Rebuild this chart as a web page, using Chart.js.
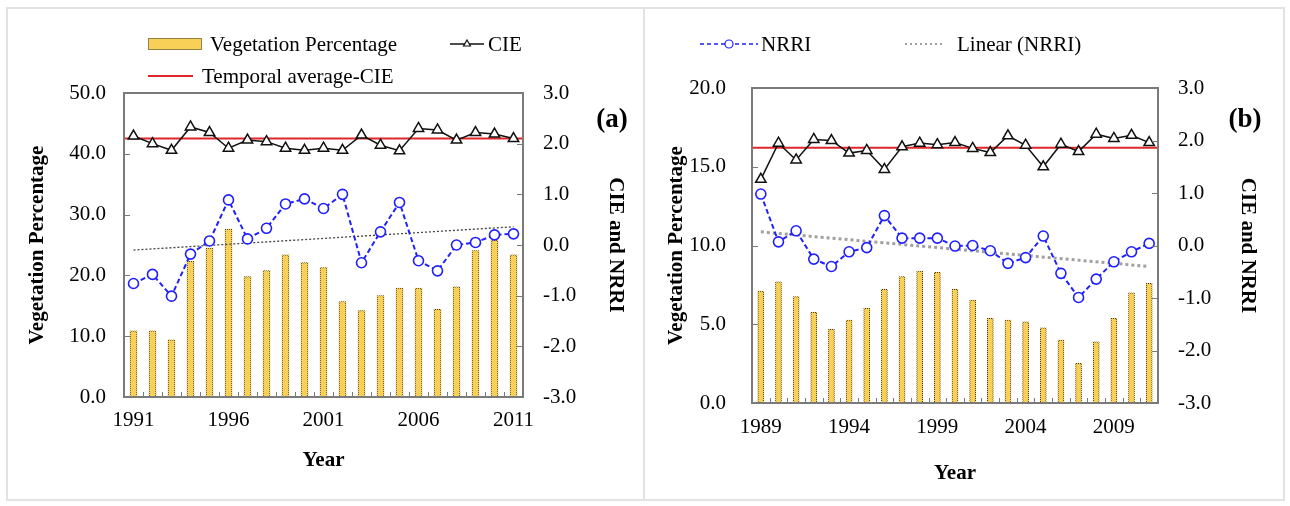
<!DOCTYPE html>
<html>
<head>
<meta charset="utf-8">
<script src="https://cdn.jsdelivr.net/npm/chart.js@4.4.1/dist/chart.umd.min.js"></script>
<style>
  body { margin: 0; background: #fff; }
  #wrap { position: relative; width: 1290px; height: 506px; overflow: hidden; }
  .frame { position: absolute; top: 7px; height: 490px; border: 2px solid #e2e2e2; }
  canvas { position: absolute; top: 0; }
</style>
</head>
<body>
<div id="wrap">
  <div class="frame" style="left:6px;width:635px;"></div>
  <div class="frame" style="left:643px;width:638px;"></div>
  <canvas id="chartA" width="645" height="506" style="left:0"></canvas>
  <canvas id="chartB" width="645" height="506" style="left:645px"></canvas>
</div>
<script>
// panel (a) 1991-2011
const yearsA = [1991,1992,1993,1994,1995,1996,1997,1998,1999,2000,2001,2002,2003,2004,2005,2006,2007,2008,2009,2010,2011];
const vegA = [10.9,10.9,9.4,22.3,24.5,27.6,19.8,20.8,23.4,22.1,21.3,15.7,14.2,16.7,17.9,17.9,14.4,18.1,24.1,25.8,23.4];
const cieA = [2.15,2.0,1.87,2.33,2.22,1.91,2.07,2.04,1.91,1.87,1.91,1.87,2.17,1.97,1.86,2.3,2.27,2.07,2.22,2.19,2.1];
const nrriA = [-0.76,-0.58,-1.01,-0.18,0.08,0.89,0.12,0.33,0.81,0.91,0.72,1.0,-0.35,0.26,0.84,-0.31,-0.51,0.0,0.05,0.2,0.22];
const avgCieA = 2.1;
const trendA = [-0.1, 0.36]; // start / end of linear trend

// panel (b) 1989-2011
const yearsB = [1989,1990,1991,1992,1993,1994,1995,1996,1997,1998,1999,2000,2001,2002,2003,2004,2005,2006,2007,2008,2009,2010,2011];
const vegB = [7.1,7.7,6.75,5.76,4.68,5.27,6.01,7.22,8.02,8.38,8.3,7.22,6.54,5.38,5.27,5.16,4.78,4.0,2.52,3.89,5.38,7.0,7.6];
const cieB = [1.26,1.95,1.63,2.02,2.0,1.76,1.81,1.45,1.88,1.95,1.92,1.96,1.85,1.77,2.09,1.91,1.5,1.93,1.79,2.12,2.04,2.1,1.96];
const nrriB = [0.98,0.07,0.28,-0.26,-0.4,-0.12,-0.04,0.57,0.14,0.14,0.14,-0.01,0.0,-0.1,-0.34,-0.23,0.18,-0.53,-0.99,-0.64,-0.31,-0.12,0.04];
const avgCieB = 1.86;
const trendB = [0.26, -0.4];

const FONT = "'Liberation Serif', 'Times New Roman', serif";
const YELLOW = "#f8cf57";

// dotted border for the bars
function dottedPattern() {
    const c = document.createElement("canvas");
    c.width = 2; c.height = 2;
    const g = c.getContext("2d");
    g.fillStyle = YELLOW;
    g.fillRect(0, 0, 2, 2);
    g.fillStyle = "#3a3320";
    g.fillRect(0, 0, 1, 1);
    g.fillRect(1, 1, 1, 1);
    return g.createPattern(c, "repeat");
}

function trendData(n, ends) {
    const d = new Array(n).fill(null);
    d[0] = ends[0];
    d[n - 1] = ends[1];
    return d;
}

function drawLegendItem(ctx, it) {
    ctx.save();
    if (it.kind === "bar") {
        ctx.fillStyle = YELLOW;
        ctx.fillRect(it.x0, it.y - 6, it.x1 - it.x0, 12);
        ctx.strokeStyle = "#333";
        ctx.lineWidth = 1;
        ctx.setLineDash([1, 1]);
        ctx.strokeRect(it.x0 + 0.5, it.y - 6 + 0.5, it.x1 - it.x0 - 1, 11);
    } else {
        ctx.strokeStyle = it.color;
        ctx.lineWidth = it.width;
        ctx.lineCap = it.cap || "butt";
        ctx.setLineDash(it.dash || []);
        ctx.beginPath();
        ctx.moveTo(it.x0, it.y);
        ctx.lineTo(it.x1, it.y);
        ctx.stroke();
        if (it.point) {
            ctx.setLineDash([]);
            ctx.fillStyle = "#fff";
            ctx.strokeStyle = it.color;
            ctx.lineWidth = 1.2;
            Chart.helpers.drawPoint(ctx, { pointStyle: it.point, radius: 4, borderWidth: 1.2, rotation: 0 }, (it.x0 + it.x1) / 2, it.y);
        }
    }
    ctx.restore();
    ctx.save();
    ctx.fillStyle = "#000";
    ctx.font = "21px " + FONT;
    ctx.textBaseline = "middle";
    ctx.fillText(it.text, it.tx, it.y + 1);
    ctx.restore();
}

const extrasPlugin = {
    id: "extras",
    beforeDatasetsDraw(chart, args, opts) {
        const { ctx, chartArea: a, scales } = chart;
        const y = scales.y1.getPixelForValue(opts.average);
        ctx.save();
        ctx.strokeStyle = "#e0262b";
        ctx.lineWidth = 2;
        ctx.beginPath();
        ctx.moveTo(a.left, y);
        ctx.lineTo(a.right, y);
        ctx.stroke();
        ctx.restore();
    },
    afterDraw(chart, args, opts) {
        const { ctx, chartArea: a, scales } = chart;
        ctx.save();
        ctx.strokeStyle = "#7a7a7a";
        ctx.lineWidth = 1;
        // inner tick marks
        ctx.beginPath();
        scales.y.ticks.forEach(t => {
            const y = Math.round(scales.y.getPixelForValue(t.value)) + 0.5;
            ctx.moveTo(a.left, y); ctx.lineTo(a.left + 6, y);
        });
        scales.y1.ticks.forEach(t => {
            const y = Math.round(scales.y1.getPixelForValue(t.value)) + 0.5;
            ctx.moveTo(a.right, y); ctx.lineTo(a.right - 6, y);
        });
        const n = chart.data.labels.length;
        for (let i = 0; i < n - 1; i++) {
            const x = Math.round((scales.x.getPixelForValue(i) + scales.x.getPixelForValue(i + 1)) / 2) + 0.5;
            ctx.moveTo(x, a.bottom); ctx.lineTo(x, a.bottom - 5);
        }
        ctx.stroke();
        // plot frame
        ctx.lineWidth = 2;
        ctx.strokeRect(a.left, a.top, a.right - a.left, a.bottom - a.top);
        ctx.restore();

        opts.legend.forEach(it => drawLegendItem(ctx, it));

        ctx.save();
        ctx.fillStyle = "#000";
        ctx.font = "bold 27px " + FONT;
        ctx.textAlign = "center";
        ctx.textBaseline = "middle";
        ctx.fillText(opts.tag, opts.tagX, opts.tagY);
        ctx.restore();
    }
};

function makeChart(id, cfg) {
    const tickFont = { family: FONT, size: 21 };
    const titleFont = { family: FONT, size: 21, weight: "bold" };
    const n = cfg.years.length;
    return new Chart(document.getElementById(id), {
        type: "bar",
        data: {
            labels: cfg.years.map(String),
            datasets: [
                {
                    type: "line",
                    label: "NRRI",
                    data: cfg.nrri,
                    yAxisID: "y1",
                    borderColor: "#1f1fff",
                    borderWidth: 2,
                    borderDash: [5, 3],
                    pointStyle: "circle",
                    pointRadius: 5,
                    pointBackgroundColor: "#fff",
                    pointBorderColor: "#1f1fff",
                    pointBorderWidth: 1.6,
                    order: 1
                },
                {
                    type: "line",
                    label: "CIE",
                    data: cfg.cie,
                    yAxisID: "y1",
                    borderColor: "#111",
                    borderWidth: 1.5,
                    pointStyle: "triangle",
                    pointRadius: 6,
                    pointBackgroundColor: "#fff",
                    pointBorderColor: "#111",
                    pointBorderWidth: 1.5,
                    order: 2
                },
                {
                    type: "line",
                    label: "Linear (NRRI)",
                    data: trendData(n, cfg.trend),
                    yAxisID: "y1",
                    spanGaps: true,
                    borderColor: cfg.trendColor,
                    borderWidth: cfg.trendWidth,
                    borderDash: cfg.trendDash,
                    pointRadius: 0,
                    order: 3
                },
                {
                    label: "Vegetation Percentage",
                    data: cfg.veg,
                    yAxisID: "y",
                    backgroundColor: YELLOW,
                    borderColor: dottedPattern(),
                    borderWidth: 1,
                    borderSkipped: "bottom",
                    barThickness: cfg.barWidth,
                    order: 4
                }
            ]
        },
        options: {
            responsive: false,
            animation: false,
            layout: { padding: { top: cfg.top, left: 0, right: 0, bottom: 0 } },
            plugins: {
                legend: { display: false },
                tooltip: { enabled: false },
                extras: {
                    average: cfg.average,
                    legend: cfg.legend,
                    tag: cfg.tag, tagX: cfg.tagX, tagY: 120
                }
            },
            scales: {
                x: {
                    offset: true,
                    grid: { display: false, drawTicks: false },
                    border: { display: false },
                    ticks: {
                        autoSkip: false, maxRotation: 0, minRotation: 0,
                        padding: cfg.xPad, color: "#000", font: tickFont,
                        callback: (v, i) => (i % 5 === 0 ? cfg.years[i] : "")
                    },
                    title: { display: true, text: "Year", color: "#000", font: titleFont, padding: { top: 0, bottom: cfg.yearPad } },
                    afterFit: s => { s.height = cfg.xHeight; }
                },
                y: {
                    position: "left",
                    min: 0, max: cfg.vegMax,
                    grid: { display: false, drawTicks: false },
                    border: { display: false },
                    ticks: { stepSize: cfg.vegStep, padding: cfg.leftPad, color: "#000", font: tickFont, callback: v => v.toFixed(1) },
                    title: { display: true, text: "Vegetation Percentage", color: "#000", font: titleFont, padding: { top: cfg.leftTitlePad, bottom: 0 } },
                    afterFit: s => { s.width = cfg.leftWidth; }
                },
                y1: {
                    position: "right",
                    min: -3, max: 3,
                    grid: { display: false, drawTicks: false },
                    border: { display: false },
                    ticks: { stepSize: 1, padding: 20, color: "#000", font: tickFont, callback: v => v.toFixed(1) },
                    title: { display: true, text: "CIE and NRRI", color: "#000", font: titleFont, padding: { top: cfg.rightTitlePad, bottom: 0 } },
                    afterFit: s => { s.width = cfg.rightWidth; }
                }
            }
        },
        plugins: [extrasPlugin]
    });
}

makeChart("chartA", {
    years: yearsA, veg: vegA, cie: cieA, nrri: nrriA, trend: trendA, average: avgCieA,
    trendColor: "#444", trendWidth: 1.3, trendDash: [2, 2],
    barWidth: 7, vegMax: 50, vegStep: 10,
    top: 93, xHeight: 109, xPad: 11, yearPad: 33,
    leftWidth: 124, leftPad: 18, leftTitlePad: 25,
    rightWidth: 122, rightTitlePad: 17,
    tag: "(a)", tagX: 612,
    legend: [
        { kind: "bar", x0: 148, x1: 202, y: 44, text: "Vegetation Percentage", tx: 210 },
        { kind: "line", x0: 450, x1: 484, y: 44, color: "#111", width: 1.5, point: "triangle", text: "CIE", tx: 488 },
        { kind: "line", x0: 148, x1: 193, y: 76, color: "#e0262b", width: 2, text: "Temporal average-CIE", tx: 202 }
    ]
});

makeChart("chartB", {
    years: yearsB, veg: vegB, cie: cieB, nrri: nrriB, trend: trendB, average: avgCieB,
    trendColor: "#a0a0a0", trendWidth: 3, trendDash: [3, 3],
    barWidth: 6, vegMax: 20, vegStep: 5,
    top: 88, xHeight: 103, xPad: 12, yearPad: 20,
    leftWidth: 107, leftPad: 26, leftTitlePad: 19,
    rightWidth: 132, rightTitlePad: 30,
    tag: "(b)", tagX: 600,
    legend: [
        { kind: "line", x0: 55, x1: 113, y: 44, color: "#1f1fff", width: 1.5, dash: [4, 3], point: "circle", text: "NRRI", tx: 116 },
        { kind: "line", x0: 260, x1: 298, y: 44, color: "#a0a0a0", width: 2, dash: [2, 3], text: "Linear (NRRI)", tx: 312 }
    ]
});
</script>
</body>
</html>
